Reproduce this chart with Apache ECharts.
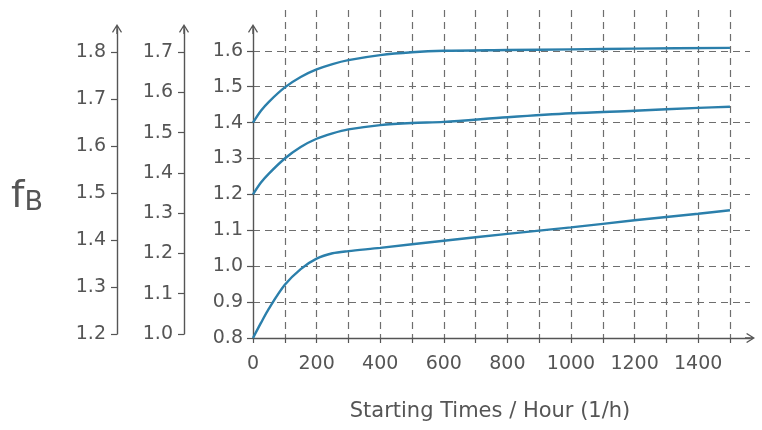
<!DOCTYPE html>
<html>
<head>
<meta charset="utf-8">
<script src="https://cdn.jsdelivr.net/npm/echarts@6/dist/echarts.min.js"></script>
<style>html,body{margin:0;padding:0;background:#fff;}#c{width:762px;height:430px;}</style>
</head>
<body>
<div id="c"></div>
<script>
// ---- data ----
const xTop = [0, 25, 50, 100, 150, 200, 250, 300, 400, 500, 600, 800, 1000, 1200, 1500];
const yTop = [1.40, 1.433, 1.458, 1.498, 1.527, 1.548, 1.563, 1.574, 1.588, 1.596, 1.600, 1.602, 1.604, 1.606, 1.608];
const xMid = [0, 25, 50, 100, 150, 200, 250, 300, 400, 500, 600, 800, 1000, 1200, 1400, 1500];
const yMid = [1.20, 1.233, 1.258, 1.300, 1.332, 1.355, 1.370, 1.381, 1.393, 1.399, 1.402, 1.415, 1.426, 1.433, 1.441, 1.444];
const xLow = [0, 25, 50, 100, 150, 200, 250, 300, 400, 600, 800, 1000, 1200, 1400, 1500];
const yLow = [0.80, 0.842, 0.882, 0.948, 0.992, 1.021, 1.036, 1.042, 1.051, 1.071, 1.090, 1.108, 1.128, 1.146, 1.156];

const xTicks = [0,100,200,300,400,500,600,700,800,900,1000,1100,1200,1300,1400,1500];
const xGridLines = [100,200,300,400,500,600,700,800,900,1000,1100,1200,1300,1400,1500];
const xLabels = [0,200,400,600,800,1000,1200,1400];
const yMainTicks = [0.8,0.9,1.0,1.1,1.2,1.3,1.4,1.5,1.6];
const yMainGrid = [0.9,1.0,1.1,1.2,1.3,1.4,1.5,1.6];
const yLeft2Ticks = [1.0,1.1,1.2,1.3,1.4,1.5,1.6,1.7];
const yLeft1Ticks = [1.2,1.3,1.4,1.5,1.6,1.7,1.8];
const xTitle = 'Starting Times / Hour (1/h)';
const yTitleMain = 'f';
const yTitleSub = 'B';

// ---- styling ----
const TXT = '#555555';
const AX = '#555555';
const GRID = '#6e6e6e';
const LINE = '#2b7fab';
const FONT = 'DejaVu Sans';
const ARROW = 'path://M50,0 L100,80 L90,88 L57,35 L57,100 L43,100 L43,35 L10,88 L0,80 Z';

function pairs(xs, ys){ return xs.map((x,i)=>[x, ys[i]]); }
function fmt1(v){ return (Math.round(v*10)/10).toFixed(1); }
function fmt0(v){ return String(Math.round(v)); }

const chart = echarts.init(document.getElementById('c'), null, {renderer:'canvas'});

const axisLineStyle = {show:true, lineStyle:{color:AX, width:1.4}, symbol:['none', ARROW], symbolSize:[10,10]};
const dashed = {show:true, lineStyle:{color:GRID, type:[7,5], width:1.2}};

const option = {
  animation:false,
  backgroundColor:'#ffffff',
  grid:[
    {left:253, right:12, top:29, bottom:92},   // main plot
    {left:253, right:12, top:10, bottom:92},   // vertical dashed lines
    {left:184, width:20, top:29, bottom:96}    // left extra axes
  ],
  xAxis:[
    {type:'value', gridIndex:0, min:0, max:1563,
      axisLine:axisLineStyle,
      axisTick:{show:true, customValues:xTicks, length:5, lineStyle:{color:AX, width:1.2}},
      axisLabel:{show:true, customValues:xLabels, formatter:fmt0, color:TXT, fontFamily:FONT, fontSize:19, margin:17},
      splitLine:{show:false}},
    {type:'value', gridIndex:1, min:0, max:1563,
      axisLine:{show:false}, axisLabel:{show:false},
      axisTick:{show:false, customValues:xGridLines},
      splitLine:dashed},
    {type:'value', gridIndex:2, min:0, max:1, show:false}
  ],
  yAxis:[
    {type:'value', gridIndex:0, min:0.8, max:1.6607,
      axisLine:axisLineStyle,
      axisTick:{show:true, customValues:yMainTicks, length:6, lineStyle:{color:AX, width:1.2}},
      axisLabel:{show:true, customValues:yMainTicks, formatter:fmt1, color:TXT, fontFamily:FONT, fontSize:19, margin:10},
      splitLine:{show:false}},
    {type:'value', gridIndex:0, min:0.8, max:1.6607, show:true,
      axisLine:{show:false}, axisLabel:{show:false},
      axisTick:{show:false, customValues:yMainGrid},
      splitLine:dashed},
    {type:'value', gridIndex:1, min:0, max:1, show:false},
    {type:'value', gridIndex:2, position:'left', offset:0, min:1.0, max:1.7571,
      axisLine:axisLineStyle,
      axisTick:{show:true, customValues:yLeft2Ticks, length:6, lineStyle:{color:AX, width:1.2}},
      axisLabel:{show:true, customValues:yLeft2Ticks, formatter:fmt1, color:TXT, fontFamily:FONT, fontSize:19, margin:11},
      splitLine:{show:false}},
    {type:'value', gridIndex:2, position:'left', offset:67, min:1.2, max:1.8489,
      axisLine:axisLineStyle,
      axisTick:{show:true, customValues:yLeft1Ticks, length:6, lineStyle:{color:AX, width:1.2}},
      axisLabel:{show:true, customValues:yLeft1Ticks, formatter:fmt1, color:TXT, fontFamily:FONT, fontSize:19, margin:11},
      splitLine:{show:false}}
  ],
  series:[
    {type:'line', xAxisIndex:0, yAxisIndex:0, data:pairs(xTop,yTop), smooth:0.3, showSymbol:false, lineStyle:{color:LINE, width:2.4}, z:5},
    {type:'line', xAxisIndex:0, yAxisIndex:0, data:pairs(xMid,yMid), smooth:0.3, showSymbol:false, lineStyle:{color:LINE, width:2.4}, z:5},
    {type:'line', xAxisIndex:0, yAxisIndex:0, data:pairs(xLow,yLow), smooth:0.3, showSymbol:false, lineStyle:{color:LINE, width:2.4}, z:5}
  ],
  graphic:[
    {type:'text', x:490, y:412, style:{text:xTitle, fill:TXT, font:'21px "DejaVu Sans"', align:'center', verticalAlign:'middle'}},
    {type:'text', x:11, y:216, style:{text:'{f|'+yTitleMain+'}{b|'+yTitleSub+'}', align:'left', verticalAlign:'bottom',
      rich:{f:{fontSize:38, fontFamily:FONT, fill:TXT, color:TXT, verticalAlign:'bottom'}, b:{fontSize:27, fontFamily:FONT, fill:TXT, color:TXT, verticalAlign:'bottom'}}}}
  ]
};
chart.setOption(option);
</script>
</body>
</html>
